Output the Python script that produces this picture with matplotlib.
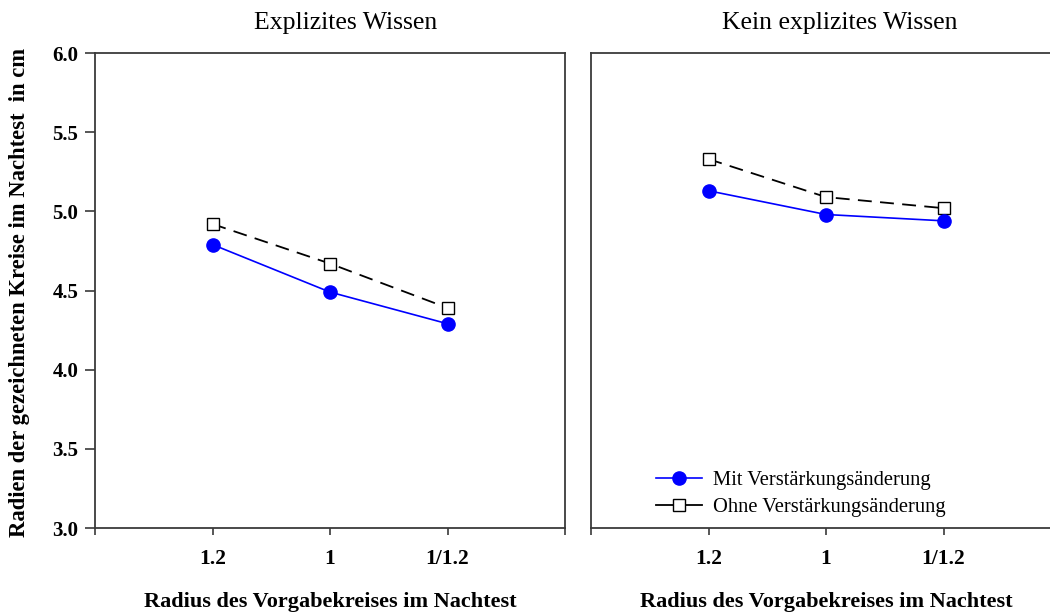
import matplotlib
matplotlib.use("Agg")
import matplotlib.pyplot as plt
from matplotlib.lines import Line2D

plt.rcParams['font.family'] = ['Liberation Serif', 'DejaVu Serif']
plt.rcParams['lines.scale_dashes'] = False

# Data
x_labels = ['1.2', '1', '1/1.2']
x_pos = [1, 2, 3]
explicit_mit = [4.79, 4.49, 4.29]
explicit_ohne = [4.92, 4.67, 4.39]
implicit_mit = [5.13, 4.98, 4.94]
implicit_ohne = [5.33, 5.09, 5.02]
panel_titles = ['Explizites Wissen', 'Kein explizites Wissen']
series_labels = ['Mit Verstärkungsänderung', 'Ohne Verstärkungsänderung']
xlabel = 'Radius des Vorgabekreises im Nachtest'
ylabel = 'Radien der gezeichneten Kreise im Nachtest  in cm'

W, H = 1050, 615
fig = plt.figure(figsize=(W / 100, H / 100), dpi=100)


def px_rect(x0, y0, x1, y1):
    return [x0 / W, 1 - y1 / H, (x1 - x0) / W, (y1 - y0) / H]


ax_l = fig.add_axes(px_rect(95, 53, 565, 528))
ax_r = fig.add_axes(px_rect(591, 53, 1061, 528))

spine_col = '#3a3a3a'
blue = '#0000ff'


def style(ax, show_y):
    ax.set_xlim(0, 4)
    ax.set_ylim(3.0, 6.0)
    for s in ax.spines.values():
        s.set_color(spine_col)
        s.set_linewidth(1.3)
    ax.set_xticks([0, 1, 2, 3, 4])
    ax.set_xticklabels([''] + x_labels + [''], fontweight='bold', fontsize=15.5)
    ax.tick_params(axis='x', direction='out', length=5, width=1.2,
                   color=spine_col, pad=10)
    if show_y:
        ax.set_yticks([3.0, 3.5, 4.0, 4.5, 5.0, 5.5, 6.0])
        ax.set_yticklabels([f'{v:.1f}' for v in ax.get_yticks()],
                           fontweight='bold', fontsize=15)
        ax.tick_params(axis='y', direction='out', length=7, width=1.2,
                       color=spine_col, pad=5)
    else:
        ax.set_yticks([])


def draw(ax, mit, ohne):
    ax.plot(x_pos, ohne, color='black', lw=1.3, dashes=(10, 6),
            marker='s', markersize=8, markerfacecolor='white',
            markeredgecolor='black', markeredgewidth=1.0, zorder=3)
    ax.plot(x_pos, mit, color=blue, lw=1.2, marker='o', markersize=9.5,
            markerfacecolor=blue, markeredgecolor=blue, zorder=4)


style(ax_l, True)
style(ax_r, False)
draw(ax_l, explicit_mit, explicit_ohne)
draw(ax_r, implicit_mit, implicit_ohne)

# Panel titles
fig.text(346 / W, 1 - 23 / H, panel_titles[0], ha='center', va='center', fontsize=18.5)
fig.text(840 / W, 1 - 23 / H, panel_titles[1], ha='center', va='center', fontsize=18.5)

# Axis labels
fig.text(330 / W, 1 - 602 / H, xlabel, ha='center', va='center',
         fontsize=16, fontweight='bold')
fig.text(826 / W, 1 - 602 / H, xlabel, ha='center', va='center',
         fontsize=16, fontweight='bold')
fig.text(20 / W, 1 - 292 / H, ylabel, ha='center', va='center', rotation=90,
         fontsize=16.3, fontweight='bold')

# Legend
handles = [
    Line2D([], [], color=blue, lw=1.2, marker='o', markersize=9.5,
           markerfacecolor=blue, markeredgecolor=blue),
    Line2D([], [], color='black', lw=1.3, marker='s', markersize=8,
           markerfacecolor='white', markeredgecolor='black', markeredgewidth=1.0),
]
ax_r.legend(handles, series_labels, loc='upper left',
            bbox_to_anchor=(656 / W, 1 - 471 / H), bbox_transform=fig.transFigure,
            frameon=False, fontsize=14.8, handlelength=2.24, handletextpad=0.53,
            labelspacing=0.36, borderpad=0, borderaxespad=0)

fig.savefig('out.png', dpi=100)
